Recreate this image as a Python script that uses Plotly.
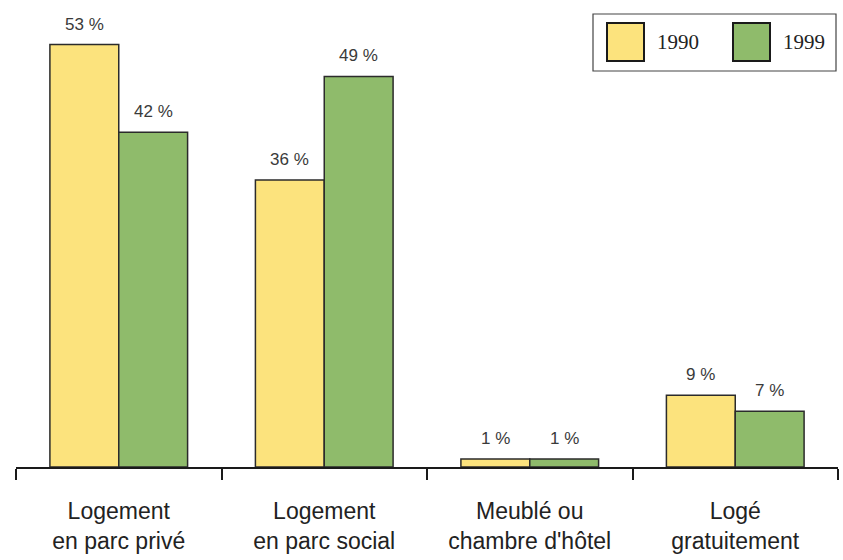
import plotly.graph_objects as go

# Housing situation shares, 1990 vs 1999
categories = ["Logement<br>en parc privé", "Logement<br>en parc social",
              "Meublé ou<br>chambre d'hôtel", "Logé<br>gratuitement"]
series_names = ["1990", "1999"]
values_1990 = [53, 36, 1, 9]
values_1999 = [42, 49, 1, 7]

colors = {"1990": "#FCE37D", "1999": "#8FBB6B"}
outline = "#2b2b2b"

W, H = 843, 560
ML, MR, MT, MB = 16, 5, 0, 93
plot_w = W - ML - MR
plot_h = H - MT - MB

fig = go.Figure()
for name, vals in zip(series_names, [values_1990, values_1999]):
    fig.add_trace(go.Bar(
        x=categories, y=vals, name=name,
        marker=dict(color=colors[name], line=dict(color=outline, width=1.5)),
        showlegend=False,
    ))

# value labels above each bar
group_w = plot_w / len(categories)
bargap = 0.33
bar_w = group_w * (1 - bargap) / 2
for i, (name, vals) in enumerate(zip(series_names, [values_1990, values_1999])):
    shift = (-0.5 if i == 0 else 0.5) * bar_w
    for cat, v in zip(categories, vals):
        fig.add_annotation(
            x=cat, y=v, xref="x", yref="y", text=f"{v} %",
            showarrow=False, xshift=shift, yshift=9, yanchor="bottom",
            font=dict(family="Liberation Sans Narrow, Arial Narrow, sans-serif",
                      size=17, color="#3a3a3a"),
        )

# legend box drawn in pixel terms, converted to paper coordinates
def px(x):
    return (x - ML) / plot_w

def py(y):
    return 1 - (y - MT) / plot_h

fig.add_shape(type="rect", xref="paper", yref="paper",
              x0=px(593), x1=px(836), y0=py(71), y1=py(14),
              line=dict(color="#444444", width=1.2), fillcolor="white")
legend_items = [("1990", 607, 655), ("1999", 733, 781)]
for name, sx, tx in legend_items:
    fig.add_shape(type="rect", xref="paper", yref="paper",
                  x0=px(sx), x1=px(sx + 37), y0=py(61), y1=py(23),
                  line=dict(color="#1a1a1a", width=2), fillcolor=colors[name])
    fig.add_annotation(x=px(tx), y=py(42), xref="paper", yref="paper",
                       text=name, showarrow=False, xanchor="left", yanchor="middle",
                       font=dict(family="Liberation Serif, serif", size=21, color="#222222"))

fig.update_layout(
    width=W, height=H,
    margin=dict(l=ML, r=MR, t=MT, b=MB),
    paper_bgcolor="white", plot_bgcolor="white",
    barmode="group", bargap=bargap, bargroupgap=0,
    xaxis=dict(
        showline=True, linecolor="#1a1a1a", linewidth=2,
        ticks="outside", tickson="boundaries", ticklen=11, tickwidth=2,
        tickcolor="#1a1a1a", showgrid=False, zeroline=False,
        tickfont=dict(family="Liberation Sans Narrow, Arial Narrow, sans-serif",
                      size=23, color="#222222"),
        ticklabelstandoff=22,
    ),
    yaxis=dict(visible=False, range=[0, plot_h / 7.97], showgrid=False, zeroline=False),
)

fig.write_html("out.html")
